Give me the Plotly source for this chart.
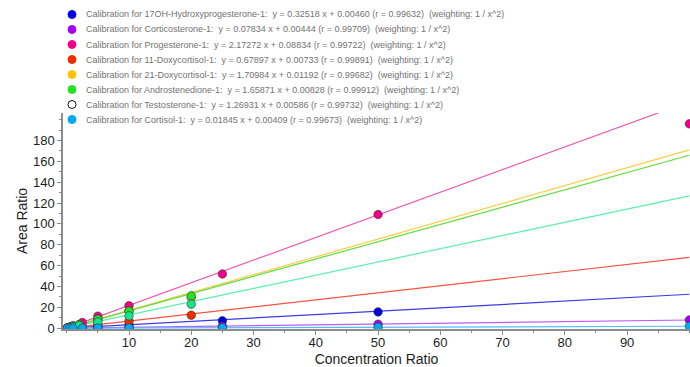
import plotly.graph_objects as go

# ---------------- data ----------------
names = ["17OH-Hydroxyprogesterone-1", "Corticosterone-1", "Progesterone-1",
         "11-Doxycortisol-1", "21-Doxycortisol-1", "Androstenedione-1",
         "Testosterone-1", "Cortisol-1"]
slopes = [0.32518, 0.07834, 2.17272, 0.67897, 1.70984, 1.65871, 1.26931, 0.01845]
intercepts = [0.00460, 0.00444, 0.08834, 0.00733, 0.01192, 0.00828, 0.00586, 0.00409]
r_values = ["0.99632", "0.99709", "0.99722", "0.99891", "0.99682", "0.99912", "0.99732", "0.99673"]
weighting = "1 / x^2"

ohp_x = [0.1, 0.5, 1, 2.5, 5, 10, 25, 50]
ohp_y = [0.04, 0.17, 0.33, 0.8, 1.6, 3.2, 7.1, 15.6]
cortico_x = [0.1, 0.5, 1, 2.5, 5, 10, 25, 50, 100]
cortico_y = [0.01, 0.04, 0.08, 0.2, 0.4, 0.8, 1.9, 3.8, 7.8]
prog_x = [0.1, 0.5, 1, 2.5, 5, 10, 25, 50, 100]
prog_y = [0.3, 1.1, 2.2, 5.4, 11.5, 21.4, 52.0, 109.0, 196.0]
doxy11_x = [0.5, 1, 2, 5, 10, 20]
doxy11_y = [0.34, 0.68, 1.35, 3.4, 6.7, 12.5]
doxy21_x = [0.5, 1, 2, 5, 10, 20]
doxy21_y = [0.86, 1.7, 3.4, 8.4, 16.6, 29.0]
andro_x = [0.5, 1, 2, 5, 10, 20]
andro_y = [0.83, 1.66, 3.3, 8.6, 16.3, 31.0]
testo_x = [0.5, 1, 2, 5, 10, 20]
testo_y = [0.64, 1.27, 2.5, 5.9, 11.8, 23.0]
cortisol_x = [0.1, 0.5, 1, 2.5, 5, 10, 25, 50, 100]
cortisol_y = [0.002, 0.01, 0.02, 0.05, 0.09, 0.18, 0.45, 0.9, 1.8]

xs = [ohp_x, cortico_x, prog_x, doxy11_x, doxy21_x, andro_x, testo_x, cortisol_x]
ys = [ohp_y, cortico_y, prog_y, doxy11_y, doxy21_y, andro_y, testo_y, cortisol_y]

# ---------------- styles ----------------
marker_colors = ["rgb(0,0,225)", "rgb(165,0,240)", "rgb(240,0,135)", "rgb(240,45,0)",
                 "rgb(255,195,0)", "rgb(35,225,35)", "rgb(20,228,140)", "rgb(0,170,240)"]
legend_colors = ["rgb(0,0,225)", "rgb(165,0,240)", "rgb(240,0,135)", "rgb(240,45,0)",
                 "rgb(255,195,0)", "rgb(35,225,35)", "white", "rgb(0,170,240)"]
line_colors = ["rgb(60,60,235)", "rgb(190,90,250)", "rgb(240,90,175)", "rgb(245,85,65)",
               "rgb(250,205,70)", "rgb(95,220,60)", "rgb(90,240,170)", "rgb(80,190,250)"]

W, H = 690, 367
ML, MR, MT, MB = 63, 0, 113, 38
PW, PH = W - ML - MR, H - MT - MB

fig = go.Figure()

x_fit = [0, max(max(x) for x in xs)]
for i in range(len(names)):
    fig.add_trace(go.Scatter(
        x=x_fit, y=[slopes[i] * v + intercepts[i] for v in x_fit],
        mode="lines", line=dict(color=line_colors[i], width=1.2),
        showlegend=False, hoverinfo="skip"))

for i in range(len(names)):
    fig.add_trace(go.Scatter(
        x=xs[i], y=ys[i], mode="markers", name=names[i],
        marker=dict(size=8.5, color=marker_colors[i],
                    line=dict(color="rgba(50,50,50,0.85)", width=0.7)),
        showlegend=False))

# custom legend (shapes + text)
shapes = []
annotations = []
for i in range(len(names)):
    py = 14.5 + 15.0 * i
    cy = (MT + PH - py) / PH
    cx = (72 - ML) / PW
    rx, ry = 4 / PW, 4 / PH
    shapes.append(dict(type="circle", xref="paper", yref="paper",
                       x0=cx - rx, x1=cx + rx, y0=cy - ry, y1=cy + ry,
                       fillcolor=legend_colors[i],
                       line=dict(color="rgb(20,20,20)" if legend_colors[i] == "white" else legend_colors[i], width=1)))
    label = (f"Calibration for {names[i]}:\u00a0 y = {slopes[i]:.5f} x + {intercepts[i]:.5f} "
             f"(r = {r_values[i]})\u00a0 (weighting: {weighting})")
    annotations.append(dict(xref="paper", yref="paper", x=(84 - ML) / PW, y=cy,
                            xanchor="left", yanchor="middle", showarrow=False,
                            text=label, font=dict(size=9, color="rgb(115,115,115)",
                                                  family="Liberation Sans, Arial, sans-serif")))

axis_font = dict(family="Liberation Sans, Arial, sans-serif", size=13, color="rgb(30,30,30)")
title_font = dict(size=14, color="rgb(30,30,30)", family="Liberation Sans, Arial, sans-serif")
fig.update_layout(
    width=W, height=H,
    margin=dict(l=ML, r=MR, t=MT, b=MB, autoexpand=False),
    paper_bgcolor="white", plot_bgcolor="white",
    showlegend=False,
    shapes=shapes, annotations=annotations,
    font=axis_font,
    xaxis=dict(range=[-0.6, 100.1], showgrid=False, zeroline=False,
               showline=True, linecolor="rgb(140,140,140)", linewidth=2,
               ticks="outside", tickcolor="rgb(140,140,140)", ticklen=4,
               tickvals=[10, 20, 30, 40, 50, 60, 70, 80, 90],
               minor=dict(dtick=5, tick0=0, ticks="outside", ticklen=2, tickcolor="rgb(140,140,140)"),
               tickfont=axis_font, ticklabelstandoff=-4,
               title=dict(text="Concentration Ratio", font=title_font, standoff=6),
               automargin=False),
    yaxis=dict(range=[-0.8, 206.4], showgrid=False, zeroline=False,
               showline=True, linecolor="rgb(140,140,140)", linewidth=1.5,
               ticks="outside", tickcolor="rgb(140,140,140)", ticklen=4,
               tickvals=[0, 20, 40, 60, 80, 100, 120, 140, 160, 180],
               minor=dict(dtick=10, tick0=0, ticks="outside", ticklen=2, tickcolor="rgb(140,140,140)"),
               tickfont=axis_font,
               title=dict(text="Area Ratio", font=title_font, standoff=2),
               automargin=False),
)

fig.write_html("out.html",
               config={"displayModeBar": False},
               post_script="document.body.style.margin='0';"
                           "document.documentElement.style.overflow='hidden';"
                           "document.body.style.overflow='hidden';")
